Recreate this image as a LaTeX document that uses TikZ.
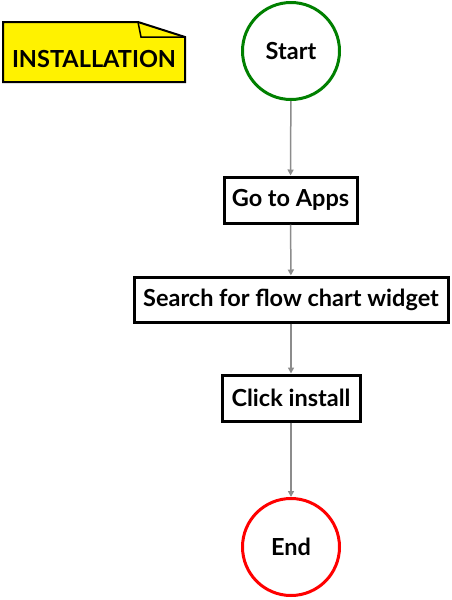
\documentclass[tikz,border=0pt]{standalone}
\usepackage{fontspec}
\setmainfont{Lato}
\usetikzlibrary{arrows.meta}

\begin{document}
\begin{tikzpicture}[x=1pt, y=-1pt,
  every node/.style={font=\bfseries\fontsize{23.5}{28}\selectfont, inner sep=0pt},
  terminal/.style={circle, line width=3pt, minimum size=97pt, fill=white},
  stepbox/.style={draw=black, line width=3pt, fill=white, rectangle},
  flow/.style={draw=black!45, line width=1.5pt, -{Triangle[length=6pt, width=6pt]}}]
  \useasboundingbox (0,0) rectangle (452,600);

  % tag in the corner
  \filldraw[fill=yellow, line width=2pt, line join=miter]
    (3,22) -- (138,22) -- (185,37) -- (185,82) -- (3,82) -- cycle;
  \draw[line width=1.5pt] (138,22) -- (141,37) -- (185,37);
  \node (tag) at (94,59) {INSTALLATION};

  \node[terminal, draw={rgb,255:red,0;green,128;blue,0}] (start) at (291,51) {Start};
  \node[stepbox, minimum width=133pt, minimum height=46pt] (apps) at (290.5,200) {Go to Apps};
  \node[stepbox, minimum width=314pt, minimum height=45pt] (search) at (291,299.5) {Search for flow chart widget};
  \node[stepbox, minimum width=138pt, minimum height=46pt] (install) at (291,398) {Click install};
  \node[terminal, draw=red] (end) at (291,547) {End};

  \foreach \a/\b in {start/apps, apps/search, search/install, install/end}
    \draw[flow] (\a) -- (\b);
\end{tikzpicture}
\end{document}
